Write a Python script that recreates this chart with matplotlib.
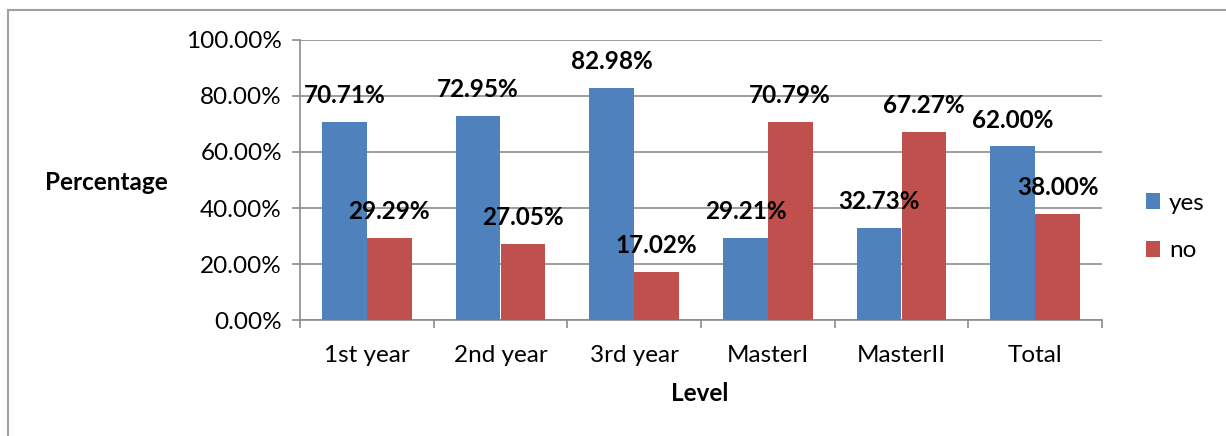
import numpy as np
import matplotlib

matplotlib.use("Agg")
import matplotlib.pyplot as plt
from matplotlib.lines import Line2D
from matplotlib.ticker import FixedLocator, PercentFormatter

plt.rcParams["font.family"] = ["Lato", "DejaVu Sans"]

levels = ["1st year", "2nd year", "3rd year", "MasterI", "MasterII", "Total"]
yes = [70.71, 72.95, 82.98, 29.21, 32.73, 62.00]
no = [29.29, 27.05, 17.02, 70.79, 67.27, 38.00]

BLUE = "#4F81BD"
RED = "#C0504D"
GRID = "#8c8c8c"
FS = 17.5

fig = plt.figure(figsize=(12.26, 4.36), dpi=100)
ax = fig.add_axes([300 / 1226, 1 - 320 / 436, 802 / 1226, 280 / 436])

x = np.arange(len(levels))
w = 0.335
b1 = ax.bar(x - w / 2, yes, w, color=BLUE, label="yes", zorder=3)
b2 = ax.bar(x + w / 2, no, w, color=RED, label="no", zorder=3)

for bars, vals in ((b1, yes), (b2, no)):
    for r, v in zip(bars, vals):
        ax.annotate(
            f"{v:.2f}%",
            (r.get_x() + r.get_width() / 2, v),
            xytext=(0, 19),
            textcoords="offset points",
            ha="center",
            va="center",
            fontsize=FS,
            fontweight="bold",
            zorder=5,
        )

ax.set_xlim(-0.5, len(levels) - 0.5)
ax.set_ylim(0, 100)
ax.yaxis.set_major_locator(FixedLocator(np.arange(0, 101, 20)))
ax.yaxis.set_major_formatter(PercentFormatter(decimals=2))
ax.grid(axis="y", color=GRID, lw=1.2, zorder=0)
ax.set_xticks(x)
ax.set_xticklabels(levels)
ax.set_xticks(np.arange(-0.5, len(levels)), minor=True)
ax.tick_params(axis="x", which="major", length=0, pad=18, labelsize=FS)
ax.tick_params(axis="x", which="minor", length=6, color=GRID, width=1.2)
ax.tick_params(axis="y", length=6, color=GRID, width=1.2, labelsize=FS, pad=7)
for s in ("top", "right"):
    ax.spines[s].set_visible(False)
for s in ("left", "bottom"):
    ax.spines[s].set_color(GRID)
    ax.spines[s].set_linewidth(1.2)

fig.text(45 / 1226, 1 - 182 / 436, "Percentage", fontsize=FS, fontweight="bold",
         va="center", ha="left")
fig.text(700 / 1226, 1 - 393 / 436, "Level", fontsize=FS, fontweight="bold",
         va="center", ha="center")

fig.legend(
    handles=[b1, b2],
    loc="center left",
    bbox_to_anchor=(1124 / 1226, 1 - 227 / 436),
    frameon=False,
    fontsize=FS,
    handlelength=0.6,
    handleheight=0.6,
    handletextpad=0.35,
    labelspacing=1.1,
)

# chart outline
fig.add_artist(Line2D([8 / 1226, 8 / 1226], [0, 1 - 10 / 436], color="#a0a0a0", lw=1.5,
                      transform=fig.transFigure))
fig.add_artist(Line2D([8 / 1226, 1], [1 - 10 / 436, 1 - 10 / 436], color="#a0a0a0", lw=1.5,
                      transform=fig.transFigure))

fig.savefig("out.png", dpi=100)
